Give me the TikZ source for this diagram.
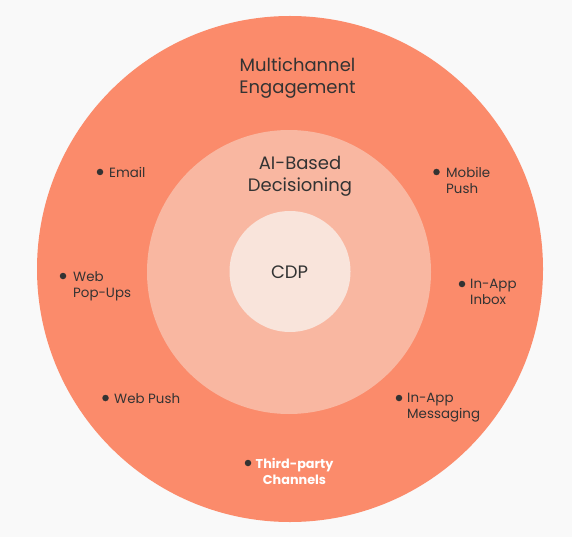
\documentclass[tikz,border=0pt]{standalone}
\usepackage{fontspec}
\setmainfont{Poppins}
\definecolor{pagebg}{HTML}{F9F9F9}
\definecolor{ringout}{HTML}{FB8B6B}
\definecolor{ringmid}{HTML}{F9B7A1}
\definecolor{ringin}{HTML}{F9E4DB}
\definecolor{ink}{HTML}{333333}
\begin{document}
\begin{tikzpicture}[x=1pt, y=-1pt,
  title/.style={inner sep=0, align=center, text=ink, font=\fontsize{18}{21.5}\selectfont},
  channel/.style={inner sep=0, anchor=north west, align=left, text=ink, font=\fontsize{13.4}{16}\selectfont},
  bullet/.style={circle, fill=ink, inner sep=0, minimum size=6.5pt}]
  \fill [pagebg] (0,0) rectangle (572,537);
  \useasboundingbox (0,0) rectangle (572,537);
  \fill [ringout] (290,269) circle (253pt);
  \fill [ringmid] (289,272) circle (142pt);
  \fill [ringin] (290,271.5) circle (60.5pt);

  \node [title] (multi) at (297.5,78) { Multichannel\\Engagement };
  \node [title] (ai) at (300,176.5) { AI-Based\\Decisioning };
  \node [title] (cdp) at (292,272) { CDP };

  \node [bullet] (d-email) at (100,172) {};
  \node [channel] (email) at (109,167) { Email };
  \node [bullet] (d-popup) at (63,276) {};
  \node [channel] (popup) at (73,271) { Web\\Pop-Ups };
  \node [bullet] (d-webpush) at (105.5,398) {};
  \node [channel] (webpush) at (114,393) { Web Push };
  \node [bullet] (d-third) at (248,463) {};
  \node [channel, align=center, text=white, font=\fontsize{12.8}{16}\selectfont\bfseries] (third) at (255.5,458) { Third-party\\Channels };
  \node [bullet] (d-mobile) at (436.5,172) {};
  \node [channel] (mobile) at (446,167) { Mobile\\Push };
  \node [bullet] (d-inbox) at (462,284) {};
  \node [channel] (inbox) at (470,279) { In-App\\Inbox };
  \node [bullet] (d-msg) at (399,398) {};
  \node [channel] (msg) at (407,393) { In-App\\Messaging };
\end{tikzpicture}
\end{document}
